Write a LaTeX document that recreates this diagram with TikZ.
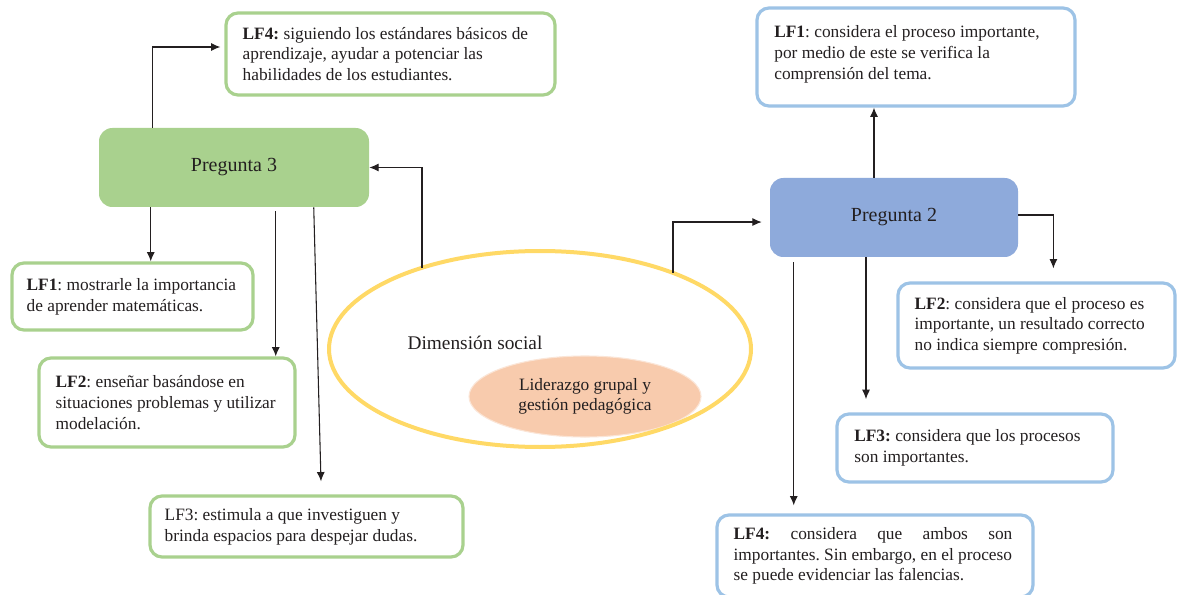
\documentclass[tikz,border=0pt]{standalone}
\usepackage{fontspec}
\setmainfont{Liberation Serif}
\usetikzlibrary{arrows.meta,calc,shapes.geometric}
\definecolor{gfill}{HTML}{A9D18E}
\definecolor{bfill}{HTML}{8EAADB}
\definecolor{bline}{HTML}{9DC3E6}
\definecolor{yline}{HTML}{FFD966}
\definecolor{ofill}{HTML}{F8CBAD}
\definecolor{ink}{HTML}{231F20}
\begin{document}
\frenchspacing
\begin{tikzpicture}[x=0.75pt,y=-0.75pt,
  gbox/.style={draw=gfill, line width=2.4pt, rounded corners=9pt, fill=white, inner sep=0pt},
  bbox/.style={draw=bline, line width=2.4pt, rounded corners=9pt, fill=white, inner sep=0pt},
  qbox/.style={rounded corners=10pt, inner sep=0pt, font=\fontsize{15}{18}\selectfont, text=ink},
  txt/.style={font=\fontsize{13}{15.5}\selectfont\frenchspacing, align=left, inner sep=0pt, anchor=west, text=ink},
  arr/.style={draw=ink, line width=0.8pt, -{Latex[length=7pt,width=6pt]}}
]
\fill[white] (0,0) rectangle (1177,595);
\useasboundingbox (0,0) rectangle (1177,595);

% left side (green)
\node[gbox, minimum width=246.75pt, minimum height=61.5pt] (l4) at (390.5,54) {};
\node[txt] (l4t) at ([xshift=13.5pt]l4.west) {\textbf{LF4:} siguiendo los estándares básicos de\\aprendizaje, ayudar a potenciar las\\habilidades de los estudiantes.};

\node[qbox, fill=gfill, minimum width=202.5pt, minimum height=59.25pt] (p3) at (234,167.5) {Pregunta 3};

\node[gbox, minimum width=180.75pt, minimum height=50.25pt] (l1) at (132.5,296.5) {};
\node[txt] (l1t) at ([xshift=12pt]l1.west) {\textbf{LF1}: mostrarle la importancia\\de aprender matemáticas.};

\node[gbox, minimum width=192pt, minimum height=66.75pt] (l2) at (167,402.5) {};
\node[txt] (l2t) at ([xshift=13.5pt]l2.west) {\textbf{LF2}: enseñar basándose en\\situaciones problemas y utilizar\\modelación.};

\node[gbox, minimum width=234.75pt, minimum height=45.75pt] (l3) at (306.5,526.5) {};
\node[txt] (l3t) at ([xshift=12pt]l3.west) {LF3: estimula a que investiguen y\\brinda espacios para despejar dudas.};

% centre ellipses
\node[ellipse, fill=ofill, draw=ofill!50!white, line width=0.8pt, minimum width=174pt, minimum height=60.75pt, inner sep=0pt, align=center, text=ink, font=\fontsize{13}{15.5}\selectfont] (ei) at (585,396.5) {Liderazgo grupal y\\gestión pedagógica};
\node[ellipse, draw=yline, line width=3pt, minimum width=316.5pt, minimum height=147pt, inner sep=0pt] (eo) at (540,349) {};
\node[font=\fontsize{14.5}{17}\selectfont, anchor=base, text=ink, inner sep=0pt] (ds) at (475,349) {Dimensión social};

% right side (blue)
\node[qbox, fill=bfill, minimum width=186pt, minimum height=59.25pt] (p2) at (894,217.5) {Pregunta 2};

\node[bbox, minimum width=238.5pt, minimum height=73.5pt] (r1) at (916,57) {};
\node[txt] (r1t) at ([xshift=14pt,yshift=2pt]r1.west) {\textbf{LF1}: considera el proceso importante,\\por medio de este se verifica la\\comprensión del tema.};

\node[bbox, minimum width=207.75pt, minimum height=63.75pt] (r2) at (1036.5,325.5) {};
\node[txt] (r2t) at ([xshift=13.5pt]r2.west) {\textbf{LF2}: considera que el proceso es\\importante, un resultado correcto\\no indica siempre compresión.};

\node[bbox, minimum width=207pt, minimum height=51pt] (r3) at (975,448) {};
\node[txt] (r3t) at ([xshift=14pt]r3.west) {\textbf{LF3:} considera que los procesos\\son importantes.};

\node[bbox, minimum width=237pt, minimum height=61.5pt] (r4) at (875,556) {};
\node[txt] (r4t) at ([xshift=13.5pt]r4.west) {\makebox[209pt][s]{\textbf{LF4:} considera que ambos son}\\importantes. Sin embargo, en el proceso\\se puede evidenciar las falencias.};

% connectors
\coordinate (a0) at ($(p3.north west)+(54,0)$);
\draw[arr] (a0) |- ([xshift=-3pt,yshift=5.25pt]l4.west);
\draw[arr] ($(eo.center)+(-118,-81.3)$) |- (p3.east);
\draw[arr] ($(eo.center)+(133,-76)$) |- ([xshift=-6pt,yshift=-3.4pt]p2.west);

\coordinate (a1) at ($(p3.south west)+(52,0)$);
\draw[arr] (a1) -- (a1 |- l1.north);
\coordinate (a2) at ($(p3.south west)+(177,4)$);
\draw[arr] (a2) -- (a2 |- l2.north);
\coordinate (a3) at ($(p3.south west)+(215,0)$);
\draw[arr] (a3) -- ($(l3.north)+(14.5,-13)$);

\coordinate (b1) at ($(p2.north)+(-20,0)$);
\draw[arr] (b1) -- (b1 |- r1.south);
\coordinate (b2) at ($(p2.east)+(0,-2.5)$);
\coordinate (b2t) at ($(r2.north west)+(157,0)$);
\draw[arr, shorten >=9.75pt] (b2) -| (b2t);
\coordinate (b3) at ($(p2.south)+(-28,0)$);
\draw[arr, shorten >=10pt] (b3) -- (b3 |- r3.north);
\coordinate (b4) at ($(p2.south west)+(24,5)$);
\draw[arr, shorten >=6pt] (b4) -- (b4 |- r4.north);
\end{tikzpicture}
\end{document}
